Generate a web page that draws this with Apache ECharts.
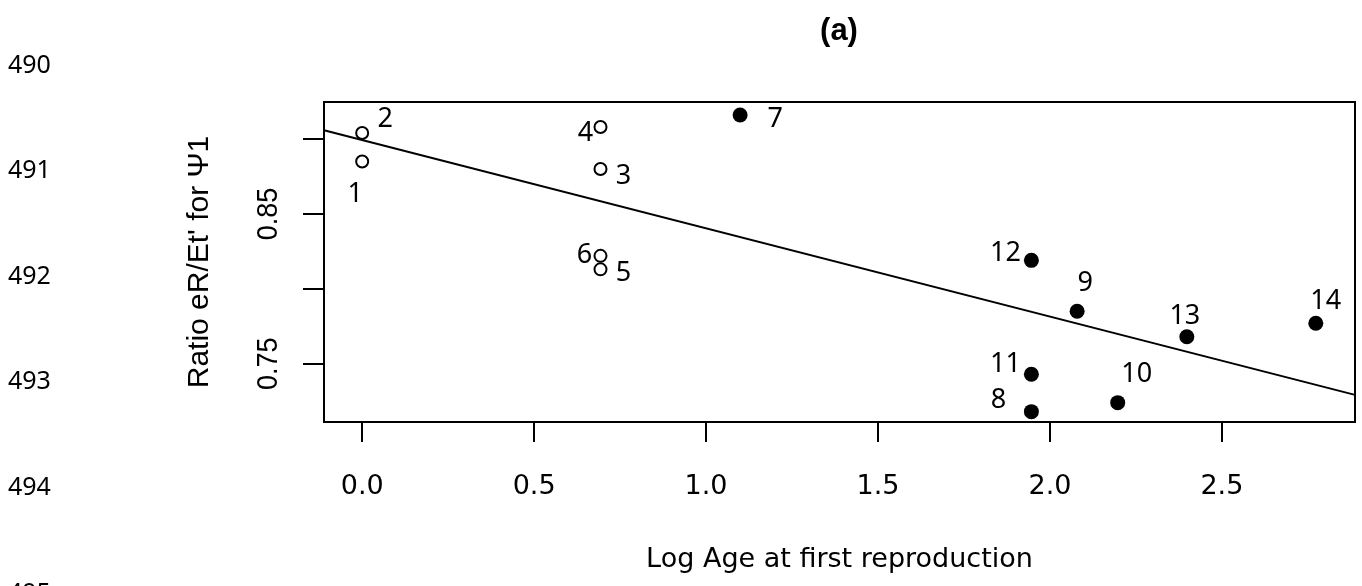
<!DOCTYPE html>
<html>
<head>
<meta charset="utf-8">
<script src="https://cdn.jsdelivr.net/npm/echarts@6/dist/echarts.min.js"></script>
<style>
html,body{margin:0;padding:0;background:#fff;}
#chart{width:1362px;height:586px;}
</style>
</head>
<body>
<div id="chart"></div>
<script>
// ---- data ----
const pointIds   = ['1','2','3','4','5','6','7','8','9','10','11','12','13','14'];
const logAge     = [0, 0, 0.693, 0.693, 0.693, 0.693, 1.099, 1.946, 2.079, 2.197, 1.946, 1.946, 2.398, 2.773];
const ratio      = [0.885, 0.904, 0.880, 0.908, 0.813, 0.822, 0.916, 0.718, 0.785, 0.724, 0.743, 0.819, 0.768, 0.777];
const filled     = [false, false, false, false, false, false, true, true, true, true, true, true, true, true];
const fitX       = [-0.111, 2.887];
const fitY       = [0.9059, 0.7292];
const xTicks     = [0, 0.5, 1.0, 1.5, 2.0, 2.5];
const yTicks     = [0.75, 0.80, 0.85, 0.90];
const yTickLabels= [0.75, 0.85];
const lineNumbers= ['490','491','492','493','494','495'];

// label placement (style, px offsets from the point centre)
const labelOffsets = [[-7,33],[23,-14],[23,7],[-15,6],[23,4],[-16,-1],[35,4],[-33,-11],[8,-28],[19,-28],[-26,-10],[-26,-7],[-2,-20],[10,-22]];

const X_MIN = -0.111, X_MAX = 2.887, Y_MIN = 0.7111, Y_MAX = 0.9247;
const GRID = {left:324, right:7, top:102, bottom:164};

const chart = echarts.init(document.getElementById('chart'), null, {renderer:'canvas'});

const labelStyle = {color:'#000', opacity:1, fontFamily:'Noto Sans', fontSize:27, align:'center', verticalAlign:'middle'};

function buildPoints(wantFilled){
  const out = [];
  for (let i = 0; i < pointIds.length; i++) {
    if (filled[i] !== wantFilled) continue;
    out.push({
      value: [logAge[i], ratio[i]],
      label: Object.assign({show: true, formatter: pointIds[i], position: 'inside', offset: labelOffsets[i]}, labelStyle)
    });
  }
  return out;
}

const graphics = [{
  type:'text', x:839, y:31,
  style:{text:'(a)', fill:'#000', font:'bold 31px "Liberation Sans"', align:'center', verticalAlign:'middle'}
}];
lineNumbers.forEach((t, i) => {
  graphics.push({type:'text', x:8, y:65.5 + i*105.6,
    style:{text:t, fill:'#000', font:'25px "Noto Sans"', align:'left', verticalAlign:'middle'}});
});

chart.setOption({
  animation:false,
  backgroundColor:'#fff',
  grid:Object.assign({show:true, borderColor:'#000', borderWidth:2, backgroundColor:'transparent'}, GRID),
  xAxis:{
    type:'value', min:X_MIN, max:X_MAX,
    name:'Log Age at first reproduction', nameLocation:'middle', nameGap:124,
    nameTextStyle:{color:'#000', fontFamily:'DejaVu Sans', fontSize:27},
    axisLine:{show:false, onZero:false},
    axisTick:{show:true, inside:false, length:20, customValues:xTicks, lineStyle:{color:'#000', width:2}},
    axisLabel:{show:true, customValues:xTicks, margin:51, color:'#000', fontFamily:'DejaVu Sans', fontSize:27,
      formatter:v => v.toFixed(1)},
    splitLine:{show:false}
  },
  yAxis:{
    type:'value', min:Y_MIN, max:Y_MAX,
    name:"Ratio eR/Et' for \u03A81", nameLocation:'middle', nameGap:109,
    nameTextStyle:{color:'#000', fontFamily:'Liberation Sans', fontSize:30},
    axisLine:{show:false, onZero:false},
    axisTick:{show:true, inside:false, length:21, customValues:yTicks, lineStyle:{color:'#000', width:2}},
    axisLabel:{show:false},
    splitLine:{show:false}
  },
  graphic:graphics,
  series:[
    {
      type:'line', data:[[fitX[0], fitY[0]], [fitX[1], fitY[1]]],
      showSymbol:false, symbol:'none', silent:true,
      lineStyle:{color:'#000', width:2, opacity:1}, z:1
    },
    {
      type:'scatter', data:buildPoints(false), symbol:'circle', symbolSize:12,
      itemStyle:{color:'rgba(0,0,0,0)', borderColor:'#000', borderWidth:2, opacity:1},
      emphasis:{disabled:true}, z:2
    },
    {
      type:'scatter', data:buildPoints(true), symbol:'circle', symbolSize:15,
      itemStyle:{color:'#000', opacity:1},
      emphasis:{disabled:true}, z:2
    }
  ]
});

// y tick labels: rotated text placed on the axis scale (slightly widened across like the reference)
const yLabelGraphics = yTickLabels.map(v => {
  const p = chart.convertToPixel({gridIndex:0}, [X_MIN, v]);
  return {type:'text', x:GRID.left - 55, y:p[1], rotation:Math.PI/2, scaleX:1, scaleY:1.12,
    style:{text:v.toFixed(2), fill:'#000', font:'27px "Liberation Sans"', align:'center', verticalAlign:'middle'}};
});
chart.setOption({graphic:graphics.concat(yLabelGraphics)});
</script>
</body>
</html>
